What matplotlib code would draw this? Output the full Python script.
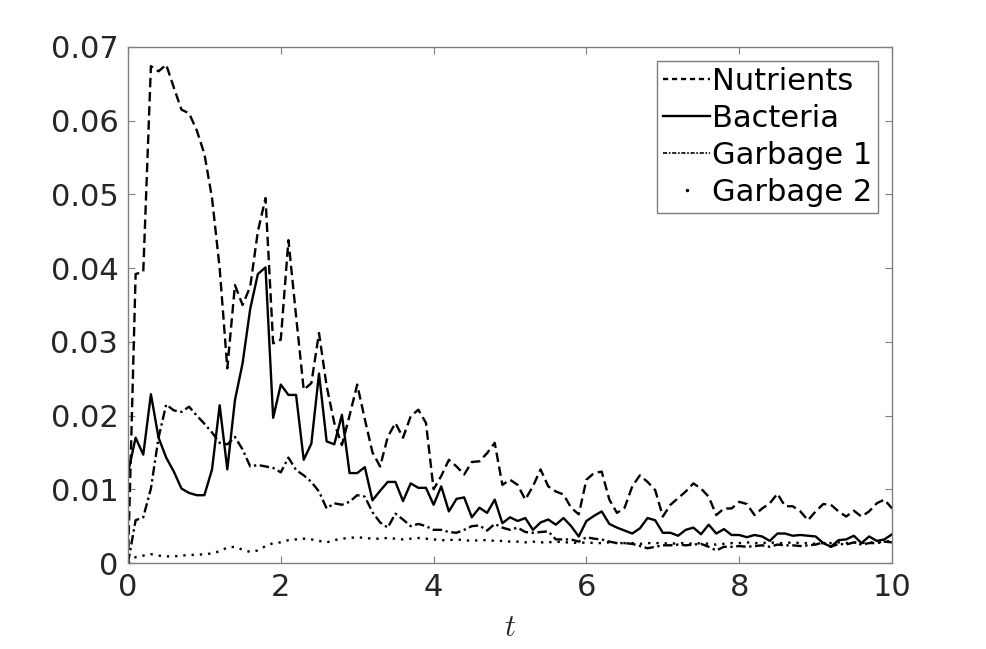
import numpy as np
import matplotlib
matplotlib.use('Agg')
import matplotlib.pyplot as plt
from matplotlib.lines import Line2D

# time axis (dt = 0.1)
t = np.round(np.arange(0, 10.05, 0.1), 1)

# values, in units of 0.01
nutrients = [0, 3.92, 3.95, 6.74, 6.67, 6.76, 6.45, 6.15, 6.10, 5.87,
             5.55, 4.95, 4.00, 2.64, 3.77, 3.50, 3.75, 4.50, 4.95, 2.98,
             3.03, 4.38, 3.35, 2.35, 2.44, 3.12, 2.40, 1.90, 1.60, 2.00,
             2.42, 1.95, 1.50, 1.31, 1.71, 1.90, 1.70, 1.99, 2.08, 1.90,
             1.00, 1.18, 1.40, 1.31, 1.20, 1.37, 1.38, 1.49, 1.63, 1.06,
             1.13, 1.06, 0.86, 1.04, 1.27, 1.04, 0.97, 0.93, 0.75, 0.66,
             1.13, 1.22, 1.24, 0.86, 0.68, 0.75, 1.04, 1.19, 1.10, 0.99,
             0.63, 0.79, 0.88, 0.97, 1.08, 1.01, 0.90, 0.65, 0.74, 0.74,
             0.83, 0.80, 0.65, 0.74, 0.81, 0.94, 0.77, 0.77, 0.70, 0.58,
             0.70, 0.80, 0.79, 0.70, 0.63, 0.71, 0.63, 0.70, 0.81, 0.86,
             0.74]
bacteria = [1.22, 1.70, 1.47, 2.29, 1.70, 1.43, 1.24, 1.01, 0.95, 0.92,
            0.92, 1.27, 2.14, 1.27, 2.21, 2.71, 3.45, 3.92, 4.01, 1.97,
            2.42, 2.28, 2.28, 1.40, 1.62, 2.57, 1.65, 1.61, 2.01, 1.22,
            1.22, 1.30, 0.85, 0.98, 1.10, 1.10, 0.84, 1.08, 1.02, 1.02,
            0.79, 1.04, 0.70, 0.87, 0.89, 0.62, 0.75, 0.68, 0.86, 0.54,
            0.62, 0.57, 0.61, 0.45, 0.55, 0.59, 0.52, 0.61, 0.50, 0.36,
            0.57, 0.64, 0.70, 0.53, 0.48, 0.44, 0.40, 0.47, 0.61, 0.58,
            0.41, 0.41, 0.37, 0.45, 0.48, 0.39, 0.52, 0.40, 0.46, 0.38,
            0.38, 0.35, 0.38, 0.36, 0.30, 0.40, 0.40, 0.37, 0.38, 0.37,
            0.36, 0.27, 0.22, 0.31, 0.32, 0.37, 0.27, 0.36, 0.30, 0.32,
            0.39]
garbage1 = [0, 0.58, 0.62, 1.01, 1.70, 2.15, 2.07, 2.05, 2.12, 2.00,
            1.89, 1.77, 1.63, 1.61, 1.71, 1.54, 1.31, 1.33, 1.31, 1.29,
            1.23, 1.43, 1.26, 1.19, 1.10, 0.97, 0.74, 0.81, 0.79, 0.83,
            0.92, 0.90, 0.69, 0.55, 0.48, 0.67, 0.59, 0.50, 0.53, 0.50,
            0.45, 0.45, 0.42, 0.41, 0.45, 0.50, 0.51, 0.44, 0.53, 0.48,
            0.45, 0.48, 0.42, 0.41, 0.42, 0.43, 0.32, 0.32, 0.32, 0.29,
            0.35, 0.33, 0.32, 0.29, 0.27, 0.27, 0.26, 0.23, 0.20, 0.22,
            0.24, 0.24, 0.25, 0.24, 0.25, 0.26, 0.22, 0.17, 0.22, 0.22,
            0.23, 0.22, 0.23, 0.24, 0.22, 0.25, 0.24, 0.24, 0.23, 0.24,
            0.25, 0.28, 0.22, 0.26, 0.25, 0.28, 0.25, 0.27, 0.27, 0.29,
            0.28]
garbage2 = [0, 0.08, 0.10, 0.12, 0.10, 0.09, 0.09, 0.10, 0.11, 0.11,
            0.12, 0.13, 0.16, 0.21, 0.22, 0.18, 0.15, 0.17, 0.23, 0.27,
            0.28, 0.31, 0.32, 0.33, 0.32, 0.30, 0.28, 0.31, 0.33, 0.34,
            0.35, 0.34, 0.33, 0.33, 0.34, 0.33, 0.32, 0.33, 0.34, 0.33,
            0.32, 0.31, 0.31, 0.32, 0.31, 0.30, 0.31, 0.31, 0.30, 0.30,
            0.29, 0.29, 0.28, 0.29, 0.28, 0.28, 0.29, 0.28, 0.28, 0.27,
            0.28, 0.27, 0.27, 0.28, 0.27, 0.27, 0.27, 0.26, 0.27, 0.27,
            0.27, 0.26, 0.27, 0.27, 0.26, 0.27, 0.26, 0.25, 0.26, 0.27,
            0.27, 0.28, 0.27, 0.27, 0.28, 0.27, 0.27, 0.28, 0.27, 0.27,
            0.26, 0.27, 0.27, 0.28, 0.27, 0.28, 0.27, 0.28, 0.28, 0.29,
            0.30]

yticks = [0, 0.01, 0.02, 0.03, 0.04, 0.05, 0.06, 0.07]
ytick_labels = ['0', '0.01', '0.02', '0.03', '0.04', '0.05', '0.06', '0.07']
xticks = [0, 2, 4, 6, 8, 10]

plt.rcParams['font.family'] = ['DejaVu Sans']
plt.rcParams['mathtext.fontset'] = 'cm'

fig = plt.figure(figsize=(9.86, 6.49), dpi=100, facecolor='w')
ax = fig.add_axes([0.1298, 0.1325, 0.7749, 0.7951])

lw = 1.7
ls_n = (0, (4, 2))
ls_g1 = (0, (4, 1.5, 1, 1.5))
ax.plot(t, np.array(nutrients) / 100, color='k', lw=lw, ls=ls_n)
ax.plot(t, np.array(bacteria) / 100, color='k', lw=lw, ls='-')
ax.plot(t, np.array(garbage1) / 100, color='k', lw=lw, ls=ls_g1)
ax.plot(t, np.array(garbage2) / 100, color='k', lw=lw, ls=(0, (1, 2.5)))

ax.set_xlim(0, 10)
ax.set_ylim(0, 0.07)
ax.set_xticks(xticks)
ax.set_yticks(yticks)
ax.set_yticklabels(ytick_labels)
ax.tick_params(direction='in', length=5, width=0.8, colors='#7f7f7f',
               labelcolor='#262626', labelsize=22, top=True, right=True, pad=7)
for sp in ax.spines.values():
    sp.set_color('#7f7f7f')
    sp.set_linewidth(1.0)

ax.set_xlabel('$t$', fontsize=22, color='#262626', labelpad=8)

# legend samples like MATLAB: garbage 2 shows a single dot
leg_handles = [
    Line2D([], [], color='k', lw=lw, ls=(0, (2.2, 1.6))),
    Line2D([], [], color='k', lw=lw, ls='-'),
    Line2D([], [], color='k', lw=1.2, ls=(0, (2.5, 1, 1, 1))),
    Line2D([], [], color='k', ls='none', marker='.', markersize=3),
]
leg = ax.legend(leg_handles, ['Nutrients', 'Bacteria', 'Garbage 1', 'Garbage 2'],
                loc='upper right', fontsize=22, handlelength=1.55, handletextpad=0.05,
                labelspacing=0.26, borderpad=0.2, borderaxespad=0.45,
                fancybox=False, framealpha=1)
leg.get_frame().set_edgecolor('#7f7f7f')
leg.get_frame().set_linewidth(1.0)

fig.savefig('out.png', dpi=100)
